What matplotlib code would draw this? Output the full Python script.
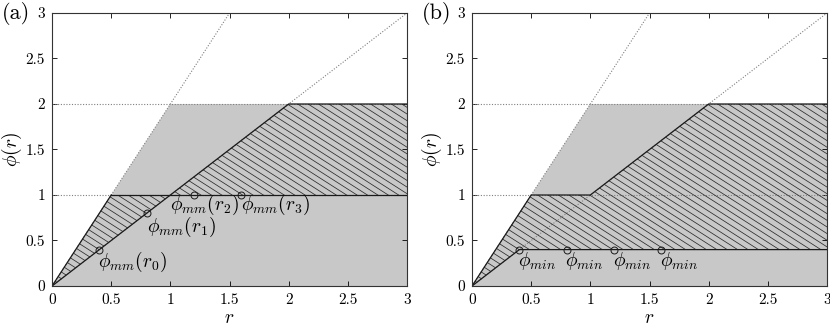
import numpy as np
import matplotlib
matplotlib.use("Agg")
import matplotlib.pyplot as plt
from matplotlib.patches import Polygon

plt.rcParams["mathtext.fontset"] = "cm"
plt.rcParams["font.family"] = ["cmr10", "DejaVu Serif"]
plt.rcParams["axes.formatter.use_mathtext"] = True

# ── data ────────────────────────────────────────────────────────────────────
grey_r = [0, 1, 3, 3]
grey_phi = [0, 2, 2, 0]

upper_r = [0, 0.5, 1, 2, 3]
upper_phi = [0, 1, 1, 2, 2]

lower_r_a = [0, 1, 3]
lower_phi_a = [0, 1, 1]
lower_r_b = [0, 0.4, 3]
lower_phi_b = [0, 0.4, 0.4]

# solid boundary lines
solid_a = [([0, 0.5], [0, 1]), ([0, 2, 3], [0, 2, 2]), ([0.5, 3], [1, 1])]
solid_b = [([0, 0.5, 1, 2, 3], [0, 1, 1, 2, 2]), ([0, 0.4, 3], [0, 0.4, 0.4])]

# dotted guide lines
guides = [([0, 1.5], [0, 3]), ([0, 3], [0, 3]), ([0, 3], [1, 1]), ([0, 3], [2, 2])]

mark_r = [0.4, 0.8, 1.2, 1.6]
mark_phi_a = [0.4, 0.8, 1, 1]
mark_phi_b = [0.4, 0.4, 0.4, 0.4]
labels_a = [r"$\phi_{mm}(r_0)$", r"$\phi_{mm}(r_1)$",
            r"$\phi_{mm}(r_2)$", r"$\phi_{mm}(r_3)$"]
labels_b = [r"$\phi_{min}$"] * 4

ticks = [0, 0.5, 1, 1.5, 2, 2.5, 3]
tick_labels = ["0", "0.5", "1", "1.5", "2", "2.5", "3"]

# label offsets (points) from their marker
offs_a = [(-1, 0), (0, -1), (-17, 1.5), (0, 1.5)]
offs_b = [(-1, 0)] * 4


def hatched(ax, lo_r, lo_phi):
    xs = list(upper_r) + list(lo_r)[::-1]
    ys = list(upper_phi) + list(lo_phi)[::-1]
    poly = Polygon(np.column_stack([xs, ys]), closed=True, fill=False,
                   lw=0, zorder=3)
    ax.add_patch(poly)
    # hatch at ~33 deg on screen, clipped to the region
    slope = -0.83
    for c in np.arange(0, 6.0, 0.073):
        ln, = ax.plot([-0.5, 3.5], [c + slope * -0.5, c + slope * 3.5],
                      color="#2a2a2a", lw=0.55, zorder=3)
        ln.set_clip_path(poly)


def panel(ax, lo_r, lo_phi, solids, mphi, labels, offs, tag):
    ax.fill(grey_r, grey_phi, color="#c8c8c8", lw=0, zorder=1)
    for gx, gy in guides:
        ax.plot(gx, gy, ls=(0, (1, 1.5)), color="#808080", lw=0.8, zorder=2)
    hatched(ax, lo_r, lo_phi)
    for sx, sy in solids:
        ax.plot(sx, sy, color="#1a1a1a", lw=0.9, zorder=4)
    ax.plot(mark_r, mphi, "o", mfc="none", mec="#1a1a1a", ms=5, mew=0.7,
            zorder=5)
    for x, y, s, o in zip(mark_r, mphi, labels, offs):
        ax.annotate(s, (x, y), xytext=o, textcoords="offset points",
                    ha="left", va="top", fontsize=14, zorder=6)
    ax.set_xlim(0, 3)
    ax.set_ylim(0, 3)
    ax.set_xticks(ticks)
    ax.set_xticklabels(tick_labels)
    ax.set_yticks(ticks)
    ax.set_yticklabels(tick_labels)
    ax.tick_params(direction="in", top=True, right=True, length=3.5,
                   width=0.6, labelsize=11, pad=5)
    for sp in ax.spines.values():
        sp.set_linewidth(0.8)
        sp.set_color("#333333")
        sp.set_zorder(7)
    ax.set_xlabel(r"$r$", fontsize=14, labelpad=2)
    ax.set_ylabel(r"$\phi(r)$", fontsize=14, labelpad=1)
    ax.figure.text(ax.get_position().x0 - 0.061, 0.995, tag, fontsize=16,
                   va="top", ha="left")


fig = plt.figure(figsize=(8.3, 3.29), dpi=100)
ax_a = fig.add_axes([0.0627, 0.1307, 0.4277, 0.8298])
ax_b = fig.add_axes([0.5687, 0.1307, 0.4277, 0.8298])

panel(ax_a, lower_r_a, lower_phi_a, solid_a, mark_phi_a, labels_a, offs_a, "(a)")
panel(ax_b, lower_r_b, lower_phi_b, solid_b, mark_phi_b, labels_b, offs_b, "(b)")

fig.savefig("out.png", dpi=100)
